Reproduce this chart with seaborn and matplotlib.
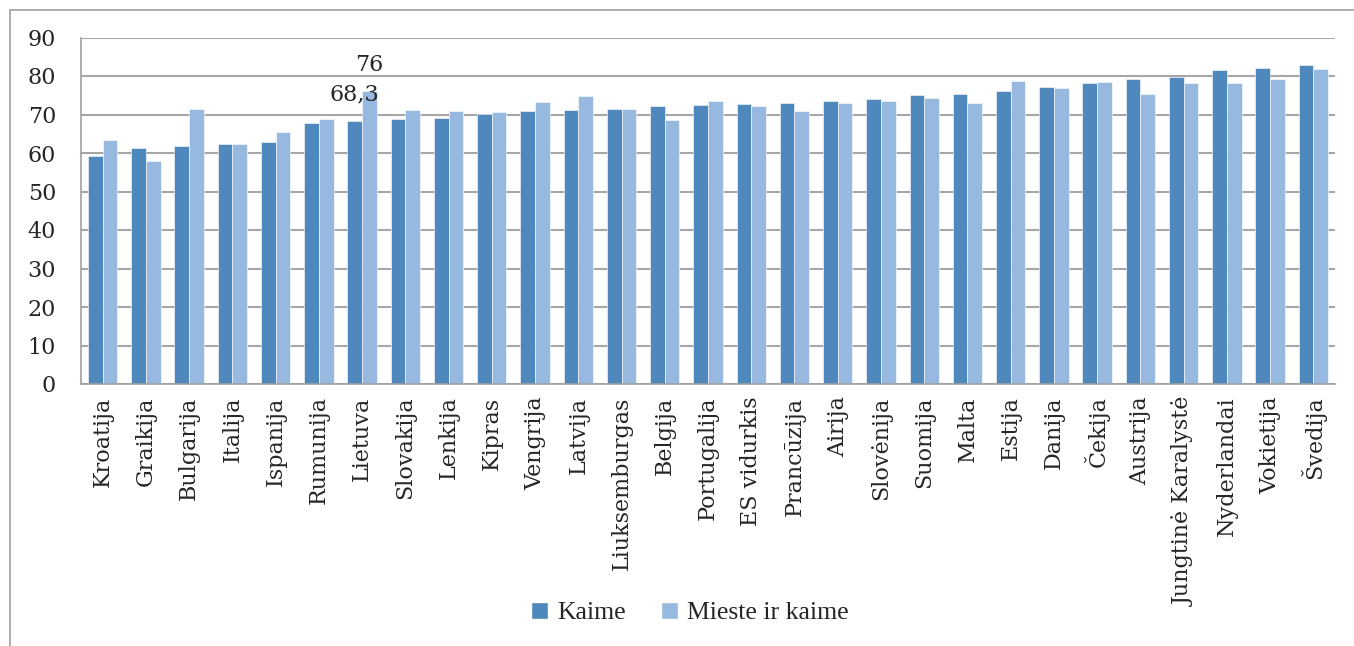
import matplotlib
matplotlib.use("Agg")
import matplotlib.pyplot as plt
import seaborn as sns
import pandas as pd
from matplotlib.lines import Line2D
from matplotlib.patches import Patch

categories = ["Kroatija", "Graikija", "Bulgarija", "Italija", "Ispanija", "Rumunija",
              "Lietuva", "Slovakija", "Lenkija", "Kipras", "Vengrija", "Latvija",
              "Liuksemburgas", "Belgija", "Portugalija", "ES vidurkis", "Prancūzija",
              "Airija", "Slovėnija", "Suomija", "Malta", "Estija", "Danija", "Čekija",
              "Austrija", "Jungtinė Karalystė", "Nyderlandai", "Vokietija", "Švedija"]
kaime = [59.2, 61.2, 61.8, 62.4, 62.9, 67.7, 68.3, 68.8, 69.1, 70.1, 70.9, 71.1,
         71.3, 72.2, 72.4, 72.6, 73.1, 73.4, 73.9, 75.1, 75.3, 76.1, 77.2, 78.1,
         79.1, 79.8, 81.6, 82.0, 82.8]
mieste_ir_kaime = [63.5, 57.8, 71.3, 62.3, 65.4, 68.8, 76.0, 71.1, 70.9, 70.7, 73.2, 74.8,
                   71.4, 68.5, 73.4, 72.2, 70.9, 72.9, 73.4, 74.2, 72.9, 78.7, 76.8, 78.5,
                   75.4, 78.1, 78.1, 79.2, 81.8]
series_names = ["Kaime", "Mieste ir kaime"]
yticks = list(range(0, 100, 10))

df = pd.DataFrame({
    "country": categories * 2,
    "value": kaime + mieste_ir_kaime,
    "series": [series_names[0]] * len(categories) + [series_names[1]] * len(categories),
})

sns.set_style("white")
plt.rcParams['font.family'] = ['DejaVu Serif', 'Liberation Serif']

W, H = 1354, 646
fig = plt.figure(figsize=(W / 100, H / 100), dpi=100)
left, right, top, bottom = 81, 1335, 37.5, 384
ax = fig.add_axes([left / W, 1 - bottom / H, (right - left) / W, (bottom - top) / H])

colors = ["#4F88BC", "#98B9DF"]
sns.barplot(data=df, x="country", y="value", hue="series", palette=colors,
            width=0.68, ax=ax, legend=False, saturation=1,
            edgecolor="white", linewidth=0.4)

ax.set_xlim(-0.5, len(categories) - 0.5)
ax.set_ylim(0, 90)
ax.set_yticks(yticks)
ax.set_yticklabels([str(t) for t in yticks], fontsize=16)
ax.set_xticks(range(len(categories)))
ax.set_xticklabels(categories, rotation=90, fontsize=16)
ax.tick_params(axis="x", which="major", length=0, pad=9)
ax.set_xticks([i + 0.5 for i in range(-1, len(categories))], minor=True)
ax.tick_params(axis="x", which="minor", length=6, color="#A0A0A0", width=1.2, direction="out")
ax.tick_params(axis="y", length=6, color="#A0A0A0", width=1.2, direction="out", pad=12)
ax.set_xlabel("")
ax.set_ylabel("")

ax.yaxis.grid(True, color="#A6A6A6", linewidth=1.5)
ax.set_axisbelow(True)
for s in ["top", "right"]:
    ax.spines[s].set_visible(False)
for s in ["left", "bottom"]:
    ax.spines[s].set_color("#A0A0A0")
    ax.spines[s].set_linewidth(1.2)

# value labels for Lietuva
i = categories.index("Lietuva")
ax.annotate("68,3", xy=(i - 0.17, kaime[i]), xytext=(0, 19), textcoords="offset points",
            ha="center", va="center", fontsize=16)
ax.annotate("76", xy=(i + 0.17, mieste_ir_kaime[i]), xytext=(0, 19), textcoords="offset points",
            ha="center", va="center", fontsize=16)

handles = [Patch(facecolor=colors[0]), Patch(facecolor=colors[1])]
fig.legend(handles, series_names, loc="center", bbox_to_anchor=(690 / W, 1 - 613 / H),
           ncol=2, frameon=False, prop={"family": "Liberation Serif", "size": 18.5},
           handlelength=0.65, handleheight=0.65,
           handletextpad=0.35, columnspacing=1.4)

# outer frame
fig.add_artist(Line2D([9.5 / W, 9.5 / W], [0, 1 - 10 / H], color="#A0A0A0", linewidth=1.2,
                      transform=fig.transFigure))
fig.add_artist(Line2D([9.5 / W, 1], [1 - 10 / H, 1 - 10 / H], color="#A0A0A0", linewidth=1.2,
                      transform=fig.transFigure))

fig.savefig("out.png", dpi=100)
